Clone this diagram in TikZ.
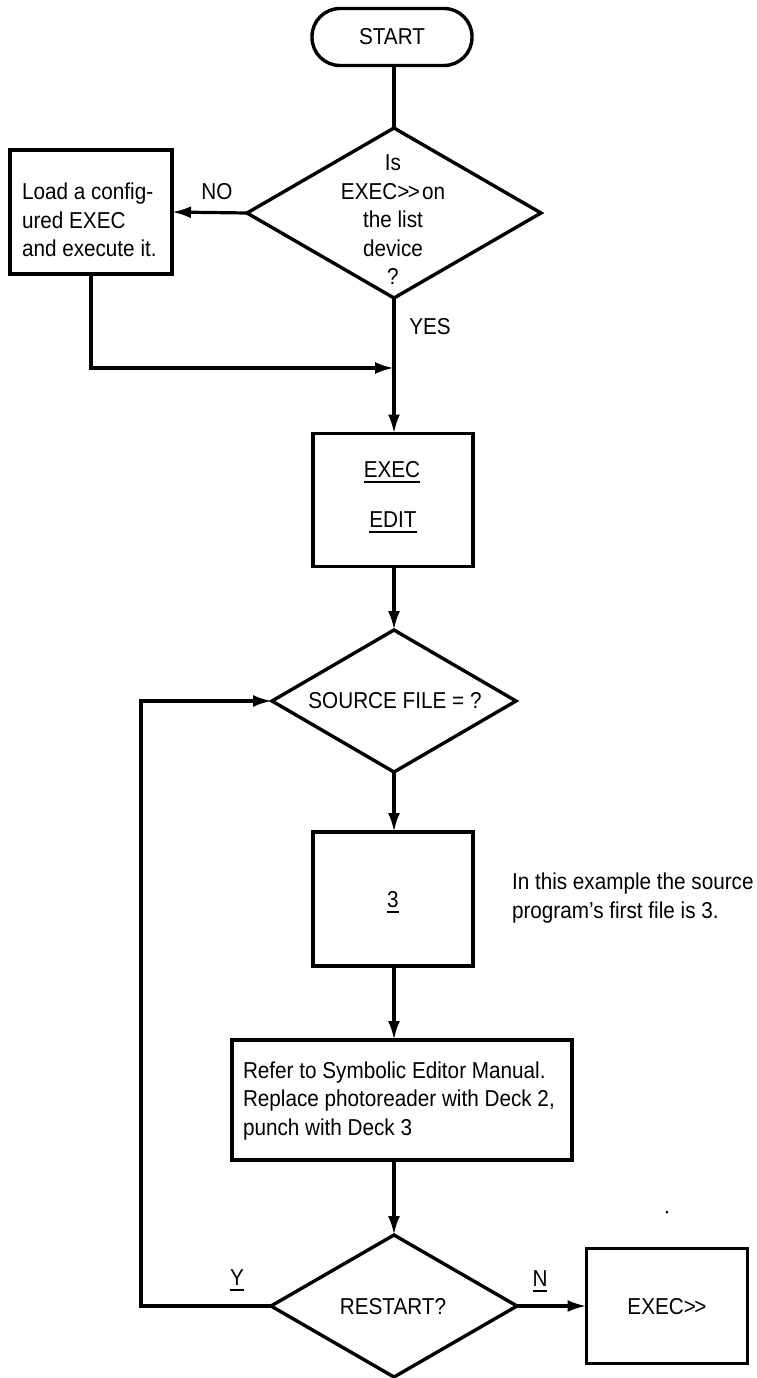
\documentclass[tikz,border=0pt]{standalone}
\usepackage{fontspec}
\setmainfont{Liberation Sans}[FakeStretch=0.9]
\usetikzlibrary{arrows.meta,shapes.geometric}

% underlined word: rule hung below the baseline
\newcommand\ulword[1]{\vtop{\hbox{#1}\kern4pt\hrule height 1.6pt}}
% the ">>" prompt sign
\newcommand\gtgt{>\kern-1.5pt>}

\begin{document}
\begin{tikzpicture}[x=1pt,y=-1pt,
  every node/.style={font=\fontsize{23}{28.5}\selectfont, inner sep=0pt, outer sep=0pt},
  box/.style={draw, line width=3.4pt, rectangle},
  decision/.style={draw, line width=3.4pt, diamond},
  term/.style={draw, line width=3.4pt, rectangle, rounded corners=28pt},
  flow/.style={line width=3.2pt, -{Latex[length=19pt,width=12pt]}},
  link/.style={line width=3.2pt},
  lbl/.style={align=center},
  lefttxt/.style={align=left, anchor=west}]

\useasboundingbox (0,0) rectangle (757,1378);

% ---- start and first decision
\node[term, minimum width=160pt, minimum height=57pt] (start) at (392,37) {START};
\node[decision, minimum width=294pt, minimum height=170pt] (q1) at (394,213) {};
\node[lbl] (q1t) at (393,220) {Is\\EXEC\gtgt\kern2pt on\\the list\\device\\?};
\draw[link] (start.south -| q1.north) -- (q1.north);

% ---- NO branch: load an EXEC
\node[box, minimum width=162pt, minimum height=124pt] (load) at (91,212) {};
\node[lefttxt] (loadt) at (22,220) {Load a config-\\ured EXEC\\and execute it.};
\node (no) at (217,192) {NO};
\draw[flow] (q1.west) -- (load.east);
\coordinate (join) at (394,368);
\draw[flow] (load.south) |- (join);
\node (yes) at (430,327) {YES};

% ---- EXEC / EDIT
\node[box, minimum width=160pt, minimum height=133pt] (edit) at (393,500) {};
\node[anchor=base] (editt1) at (392,477) {\ulword{EXEC}};
\node[anchor=base] (editt2) at (393,527) {\ulword{EDIT}};
\draw[flow] (q1.south) -- (q1.south |- edit.north);

% ---- source file question
\node[decision, minimum width=244pt, minimum height=142pt] (src) at (394,701) {};
\node (srct) at (395,701) {SOURCE FILE = ?};
\draw[flow] (src.north |- edit.south) -- (src.north);

% ---- answer 3
\node[box, minimum width=160pt, minimum height=134pt] (three) at (393,899) {};
\node[anchor=base] (threet) at (393,907) {\ulword{3}};
\draw[flow] (src.south) -- (src.south |- three.north);
\node[lefttxt] (note) at (512,898) {In this example the source\\program's first file is 3.};

% ---- editor instructions
\node[box, minimum width=340pt, minimum height=120pt] (refer) at (402,1100) {};
\node[lefttxt] (refert) at (243,1101) {Refer to Symbolic Editor Manual.\\Replace photoreader with Deck 2,\\punch with Deck 3};
\draw[flow] (src.south |- three.south) -- (src.south |- refer.north);

% ---- restart question
\node[decision, minimum width=246pt, minimum height=142pt] (rs) at (394,1306) {};
\node (rst) at (393,1307) {RESTART?};
\draw[flow] (rs.north |- refer.south) -- (rs.north);

% Y: loop back to the source file question
\coordinate (loopb) at (141,1306);
\coordinate (loopt) at (141,701);
\draw[flow] (rs.west) -- (loopb) -- (loopt) -- (src.west);
\node[anchor=base] (ylbl) at (237,1285) {\ulword{Y}};

% N: back to the executive
\node[box, minimum width=161pt, minimum height=115pt] (done) at (667,1306) {};
\node (donet) at (667,1307) {EXEC\gtgt};
\draw[flow] (rs.east) -- (done.west);
\node[anchor=base] (nlbl) at (540,1286) {\ulword{N}};

% small speck above the last box
\node[circle, fill, minimum size=3pt] (speck) at (667,1212) {};
\end{tikzpicture}
\end{document}
